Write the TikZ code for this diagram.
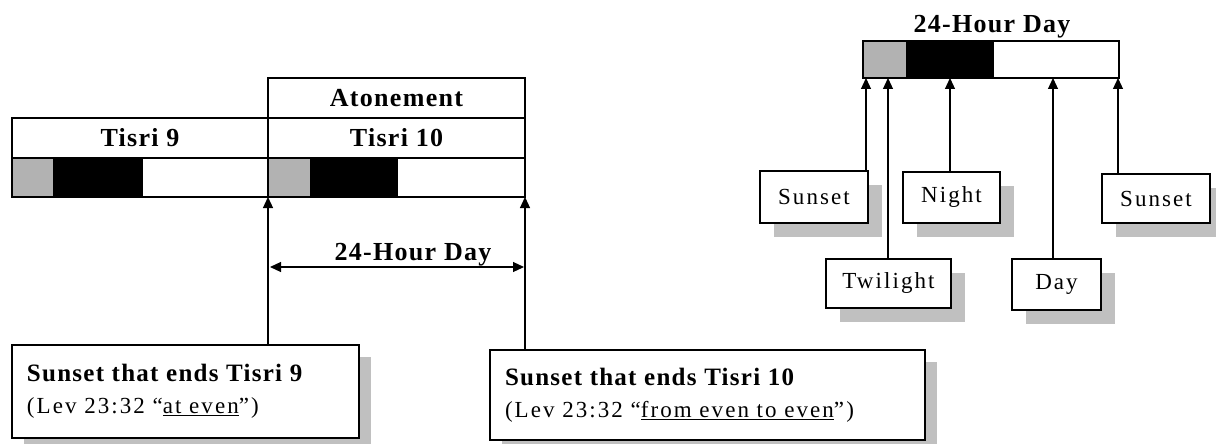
\documentclass[tikz,border=0pt]{standalone}
\usepackage{fontspec}
\newfontfamily\headfont[LetterSpace=5]{Liberation Serif}
\newfontfamily\bodyfont[LetterSpace=9]{Liberation Serif}
\usepackage{tikz}
\usetikzlibrary{positioning, arrows.meta, shadows}
\definecolor{sunsetgray}{RGB}{178,178,178}
\definecolor{shadowgray}{RGB}{192,192,192}

\begin{document}
\begin{tikzpicture}[
    x=1pt, y=-1pt,
    daybox/.style={draw=black, line width=2pt, minimum height=40pt, inner sep=0pt, font=\headfont\bfseries\fontsize{26}{30}\selectfont},
    hdr/.style={inner sep=0pt, font=\headfont\bfseries\fontsize{26}{30}\selectfont},
    seg/.style={minimum height=39pt, inner sep=0pt, outer sep=0pt},
    callout/.style={draw=black, line width=1.1pt, fill=white, inner xsep=15pt, align=left, font=\bodyfont\fontsize{23}{32}\selectfont, drop shadow={shadow xshift=12pt, shadow yshift=-12pt, fill=shadowgray, opacity=1}},
    tag/.style={draw=black, line width=1.1pt, fill=white, inner sep=0pt, font=\bodyfont\fontsize{23}{26}\selectfont, drop shadow={shadow xshift=14pt, shadow yshift=-14pt, fill=shadowgray, opacity=1}},
    arr/.style={line width=1.2pt, -{Triangle[length=11pt, width=10pt]}}
]
\useasboundingbox (0,0) rectangle (1216,444);

% Tisri 9 / Tisri 10
\node[daybox, minimum width=257pt](aton) at (396.5,98) {Atonement};
\node[daybox, minimum width=256pt](tis9) at (140,138) {Tisri 9};
\node[daybox, minimum width=257pt](tis10) at (396.5,138) {Tisri 10};

\node[seg, fill=sunsetgray, minimum width=41pt, anchor=north west](g9) at (12,158) {};
\node[seg, fill=black, minimum width=90pt, right=0pt of g9](n9) {};
\node[seg, fill=white, minimum width=125pt, right=0pt of n9](w9) {};
\node[seg, fill=sunsetgray, minimum width=42pt, anchor=north west](g10) at (268,158) {};
\node[seg, fill=black, minimum width=88pt, right=0pt of g10](n10) {};
\node[seg, fill=white, minimum width=127pt, right=0pt of n10](w10) {};
\draw[line width=2pt] (g9.north west) rectangle (w9.south east);
\draw[line width=2pt] (g10.north west) rectangle (w10.south east);

\node[hdr, anchor=base](span) at (413,260) {24-Hour Day};
\coordinate (spanl) at (270,267);
\coordinate (spanr) at (524,267);
\draw[line width=1.2pt, {Triangle[length=11pt, width=10pt]}-{Triangle[length=11pt, width=10pt]}] (spanl) -- (spanr);

\node[callout, minimum width=347pt, minimum height=93pt, text width=317pt](call9) at (185.5,391.5)
    {{\headfont\bfseries\fontsize{25}{32}\selectfont Sunset that ends Tisri 9}\\
     (Lev 23:32 “\underline{at even}”)};
\node[callout, minimum width=435pt, minimum height=90pt, text width=405pt](call10) at (707.5,395)
    {{\headfont\bfseries\fontsize{25}{32}\selectfont Sunset that ends Tisri 10}\\
     (Lev 23:32 “\underline{from even to even}”)};

\draw[arr] (call9.north -| g10.south west) -- (g10.south west);
\draw[arr] (call10.north -| w10.south east) -- (w10.south east);

% one 24-hour day
\node[hdr, anchor=base](daytitle) at (992,33) {24-Hour Day};
\node[seg, fill=sunsetgray, minimum width=43pt, minimum height=37pt, anchor=north west](dg) at (863,41) {};
\node[seg, fill=black, minimum width=88pt, minimum height=37pt, right=0pt of dg](dn) {};
\node[seg, fill=white, minimum width=125pt, minimum height=37pt, right=0pt of dn](dw) {};
\draw[line width=2pt] (dg.north west) rectangle (dw.south east);

\node[tag, minimum width=108pt, minimum height=52pt](suna) at (814,197) {Sunset};
\node[tag, minimum width=97pt, minimum height=51pt](night) at (951.5,197.5) {Night};
\node[tag, minimum width=108pt, minimum height=49pt](sunb) at (1156,198.5) {Sunset};
\node[tag, minimum width=125pt, minimum height=49pt](twi) at (888.5,283.5) {Twilight};
\node[tag, minimum width=89pt, minimum height=51pt](day) at (1056.5,284.5) {Day};

\coordinate (psuna) at (866,78);
\coordinate (ptwi) at (888,78);
\coordinate (pnight) at (950,78);
\coordinate (pday) at (1053,78);
\coordinate (psunb) at (1118,78);

\draw[arr] (suna.north -| psuna) -- (psuna);
\draw[arr] (twi.north -| ptwi) -- (ptwi);
\draw[arr] (night.north -| pnight) -- (pnight);
\draw[arr] (day.north -| pday) -- (pday);
\draw[arr] (sunb.north -| psunb) -- (psunb);
\end{tikzpicture}
\end{document}
